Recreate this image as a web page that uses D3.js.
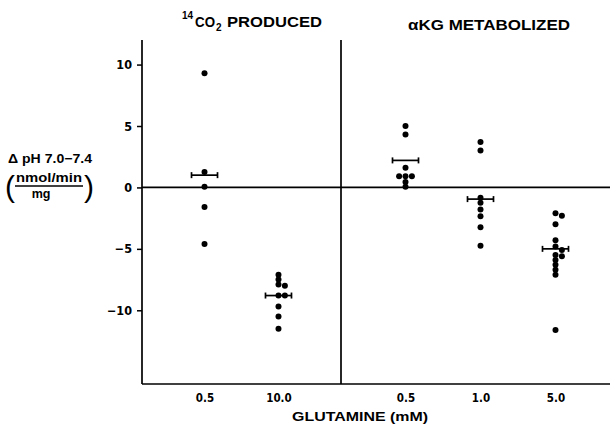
<!DOCTYPE html>
<html><head><meta charset="utf-8">
<script src="https://cdn.jsdelivr.net/npm/d3@7"></script>
<style>
body{margin:0;background:#fff}
text{font-family:"Liberation Sans",Arial,sans-serif;font-weight:bold;fill:#000}
.num{font-family:"Liberation Sans Narrow","DejaVu Sans Condensed","Liberation Sans",sans-serif;font-weight:bold}
</style>
</head><body><svg id="c" width="610" height="425"></svg>
<script>
// ---- data ----
const leftCats = ["0.5", "10.0"];
const rightCats = ["0.5", "1.0", "5.0"];
const leftValues = [
  [9.3, 1.25, 0.05, -1.6, -4.6],
  [-7.1, -7.5, -7.9, -8.0, -8.8, -8.8, -9.7, -10.5, -11.5]
];
const rightValues = [
  [5.0, 4.3, 1.6, 0.9, 0.9, 0.9, 0.45, 0.05],
  [3.7, 3.0, -0.85, -1.25, -1.8, -2.35, -3.25, -4.75],
  [-2.1, -2.3, -3.0, -4.3, -4.8, -5.1, -5.5, -5.6, -5.9, -6.3, -6.7, -7.1, -11.6]
];
const leftMeans = [1.0, -8.8];
const rightMeans = [2.2, -0.95, -5.0];
const yTicks = [10, 5, 0, -5, -10];
const leftTitle = "PRODUCED";
const rightTitle = "\u03B1KG  METABOLIZED";
const xTitle = "GLUTAMINE (mM)";

// ---- layout ----
const svg = d3.select("#c");
const X0 = 142, XMID = 341, XEND = 610, YTOP = 40, YBOT = 384;
const y = d3.scaleLinear().domain([-16, 12]).range([YBOT, YTOP]);
const xl = d3.scalePoint().domain(leftCats).range([X0, XMID]).padding(0.845);
const xr = d3.scalePoint().domain(rightCats).range([XMID, 620]).padding(0.86);

// frame lines
const line = (x1, y1, x2, y2) => svg.append("line").attr("x1", x1).attr("y1", y1)
  .attr("x2", x2).attr("y2", y2).attr("stroke", "#000").attr("stroke-width", 1.7);
line(XMID, YTOP, XMID, YBOT);
line(X0, y(0), XEND, y(0));
line(X0, YBOT, XEND, YBOT);

// y axis
const ya = svg.append("g").attr("transform", `translate(${X0},0)`)
  .call(d3.axisLeft(y).tickValues(yTicks).tickSize(5).tickPadding(5).tickSizeOuter(0));
ya.select(".domain").attr("stroke-width", 1.7).attr("d", `M0,${YTOP}V${YBOT}`);
ya.selectAll(".tick line").attr("stroke-width", 1.5);
ya.selectAll(".tick text").attr("class", "num").style("font-size", "12.5px").style("font-family", null);

// x axis labels
function xAxis(scale) {
  const g = svg.append("g").attr("transform", `translate(0,${YBOT})`)
    .call(d3.axisBottom(scale).tickSize(0).tickPadding(10));
  g.select(".domain").remove();
  g.selectAll(".tick text").attr("class", "num").style("font-size", "11.5px").style("font-family", null);
}
xAxis(xl); xAxis(xr);

// dots with simple dodge
const R = 3, D = 6.4, THR = 4.4;
function dodge(vals, cx) {
  const placed = [];
  vals.slice().sort((a, b) => b - a).forEach(v => {
    const py = y(v);
    for (const k of [0, 1, -1, 2, -2]) {
      const px = cx + k * D;
      if (placed.every(p => Math.hypot(p.x - px, p.y - py) >= THR)) { placed.push({x: px, y: py}); break; }
    }
  });
  return placed;
}
function group(scale, cats, values, means) {
  cats.forEach((c, i) => {
    const cx = scale(c);
    svg.append("g").selectAll("circle").data(dodge(values[i], cx)).join("circle")
      .attr("cx", d => d.x).attr("cy", d => d.y).attr("r", R).attr("fill", "#000");
    const my = y(means[i]), hw = 13;
    line(cx - hw, my, cx + hw, my);
    line(cx - hw, my - 3, cx - hw, my + 3);
    line(cx + hw, my - 3, cx + hw, my + 3);
  });
}
group(xl, leftCats, leftValues, leftMeans);
group(xr, rightCats, rightValues, rightMeans);

// titles
svg.append("text").attr("x", 182).attr("y", 19).style("font-size", "10px").text("14");
svg.append("text").attr("x", 195).attr("y", 27).style("font-size", "14px")
  .attr("textLength", 20).attr("lengthAdjust", "spacingAndGlyphs").text("CO");
svg.append("text").attr("x", 216).attr("y", 31).style("font-size", "10px").text("2");
svg.append("text").attr("x", 227).attr("y", 27).style("font-size", "14px")
  .attr("textLength", 95).attr("lengthAdjust", "spacingAndGlyphs").text(leftTitle);
svg.append("text").attr("x", 408).attr("y", 30).style("font-size", "14px")
  .attr("textLength", 162).attr("lengthAdjust", "spacingAndGlyphs").text(rightTitle);

// y label
svg.append("text").attr("x", 8).attr("y", 163).style("font-size", "12.5px")
  .attr("textLength", 84).attr("lengthAdjust", "spacingAndGlyphs").text("\u0394 pH 7.0\u22127.4");
svg.append("text").attr("x", 5).attr("y", 197).style("font-size", "30px").style("font-weight", "normal").text("(");
svg.append("text").attr("x", 84).attr("y", 197).style("font-size", "30px").style("font-weight", "normal").text(")");
svg.append("text").attr("x", 49).attr("y", 182).attr("text-anchor", "middle").style("font-size", "12.5px")
  .attr("textLength", 66).attr("lengthAdjust", "spacingAndGlyphs").text("nmol/min");
line(15, 186, 83, 186);
svg.append("text").attr("x", 41).attr("y", 198).attr("text-anchor", "middle").style("font-size", "12.5px").text("mg");

// x title
svg.append("text").attr("x", 360).attr("y", 421).attr("text-anchor", "middle").style("font-size", "13.5px")
  .attr("textLength", 136).attr("lengthAdjust", "spacingAndGlyphs").text(xTitle);
</script></body></html>
